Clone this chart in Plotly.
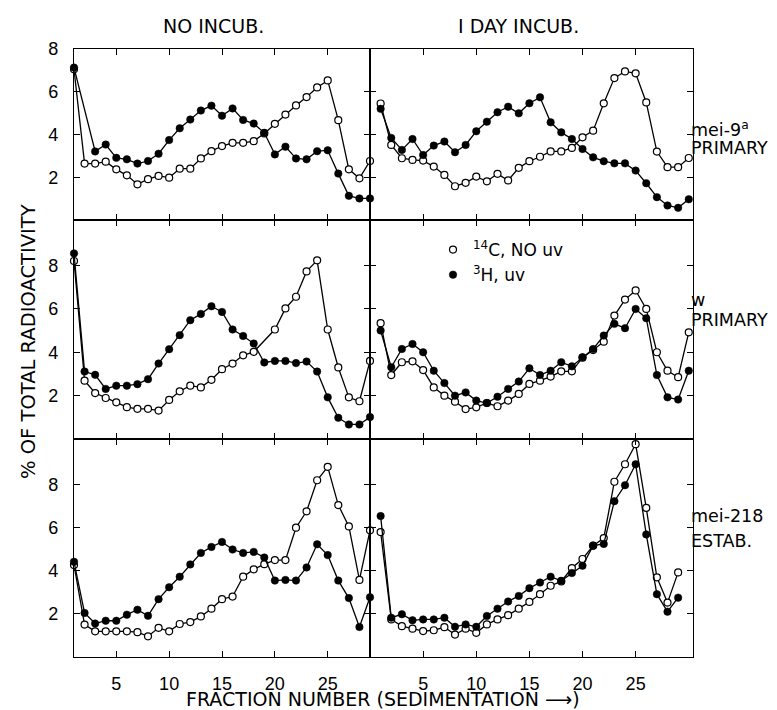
import plotly.graph_objects as go
from plotly.subplots import make_subplots

# ---------------- data ----------------
frac_29 = list(range(1, 30))
frac_30 = list(range(1, 31))
x_ticks = [5, 10, 15, 20, 25]
y_ticks = [2, 4, 6, 8]

col_titles = ["NO INCUB.", "I DAY INCUB."]
row_labels = [["mei-9<sup>a</sup>", "PRIMARY"], ["w", "PRIMARY"], ["mei-218", "ESTAB."]]
series_names = ["<sup>14</sup>C, NO uv", "<sup>3</sup>H, uv"]

# mei-9a primary, no incubation
mei9_no_c14 = [7.05, 2.64, 2.64, 2.73, 2.37, 2.09, 1.67, 1.91, 2.06, 1.98, 2.40, 2.40, 2.88, 3.22, 3.46,
               3.61, 3.61, 3.69, 4.05, 4.50, 4.93, 5.36, 5.75, 6.20, 6.53, 4.67, 2.37, 1.95, 2.76]
mei9_no_h3 = [7.13, None, 3.21, 3.53, 2.91, 2.84, 2.64, 2.76, 3.10, 3.74, 4.29, 4.70, 5.12, 5.35, 4.88,
              5.22, 4.68, 4.51, 4.08, 3.07, 3.43, 2.88, 2.84, 3.22, 3.26, 2.17, 1.13, 1.01, 1.01]
# mei-9a primary, 1 day incubation
mei9_day_c14 = [5.45, 3.51, 2.89, 2.81, 2.78, 2.50, 2.11, 1.58, 1.74, 2.03, 1.81, 2.16, 1.85, 2.44, 2.75,
                2.96, 3.21, 3.21, 3.37, 3.87, 4.18, 5.46, 6.64, 6.95, 6.86, 5.50, 3.20, 2.47, 2.47, 2.90]
mei9_day_h3 = [5.20, 3.84, 3.28, 3.79, 3.04, 3.48, 3.67, 3.17, 3.51, 4.15, 4.60, 5.04, 5.30, 4.99, 5.46,
               5.74, 4.57, 4.10, 3.79, 3.32, 2.93, 2.75, 2.65, 2.65, 2.31, 1.72, 1.07, 0.68, 0.57, 0.97]
# w primary, no incubation
w_no_c14 = [8.21, 2.69, 2.12, 1.89, 1.69, 1.47, 1.39, 1.39, 1.31, 1.80, 2.20, 2.46, 2.38, 2.73, 3.22,
            3.48, 3.86, 4.02, None, 5.05, 6.02, 6.56, 7.73, 8.24, 5.05, 3.30, 1.92, 1.74, 3.60]
w_no_h3 = [8.56, 3.11, 2.96, 2.31, 2.46, 2.46, 2.53, 2.76, 3.48, 4.14, 4.79, 5.48, 5.77, 6.12, 5.86,
           5.05, 4.75, 4.40, 3.53, 3.60, 3.60, 3.50, 3.57, 3.11, 1.92, 0.98, 0.67, 0.67, 1.01]
# w primary, 1 day incubation
w_day_c14 = [5.34, 2.95, 3.54, 3.58, 3.18, 2.38, 2.00, 1.72, 1.38, 1.46, 1.66, 1.51, 1.77, 2.08, 2.54,
             2.69, 2.88, 3.12, 3.12, 3.75, 4.10, 4.49, 5.69, 6.43, 6.85, 6.00, 4.00, 3.15, 2.85, 4.92]
w_day_h3 = [5.00, 3.31, 4.15, 4.38, 4.00, 3.15, 2.58, 2.00, 2.15, 1.77, 1.66, 1.95, 2.31, 2.65, 3.26,
            2.95, 3.15, 3.54, 3.35, 3.77, 4.15, 4.77, 5.31, 5.11, 6.00, 5.57, 2.95, 1.92, 1.82, 3.15]
# mei-218 established, no incubation
m218_no_c14 = [4.26, 1.50, 1.19, 1.19, 1.19, 1.19, 1.15, 0.96, 1.35, 1.19, 1.53, 1.62, 1.88, 2.24, 2.68,
               2.80, 3.72, 4.06, 4.30, 4.49, 4.49, 5.99, 6.75, 8.19, 8.81, 7.04, 6.05, 3.57, 5.87]
m218_no_h3 = [4.41, 2.04, 1.55, 1.68, 1.68, 1.96, 2.19, 1.91, 2.68, 3.23, 3.72, 4.29, 4.82, 5.10, 5.33,
              4.98, 4.82, 4.87, 4.61, 3.54, 3.57, 3.54, 4.15, 5.22, 4.72, 3.54, 2.73, 1.39, 2.77]
# mei-218 established, 1 day incubation
m218_day_c14 = [5.79, 1.74, 1.43, 1.31, 1.20, 1.24, 1.38, 1.04, 1.31, 1.12, 1.51, 1.74, 1.94, 2.24, 2.55,
                2.91, 3.30, 3.50, 4.12, 4.54, 5.16, 5.51, 8.12, 8.93, 9.86, 6.91, 3.69, 2.52, 3.92]
m218_day_h3 = [6.53, 1.82, 1.98, 1.70, 1.74, 1.74, 1.82, 1.40, 1.51, 1.40, 1.90, 2.24, 2.57, 2.83, 3.19,
               3.45, 3.72, 3.53, 3.89, 4.23, 5.16, 5.24, 7.22, 7.96, 8.93, 5.68, 2.91, 2.10, 2.75]

panels = [
    (1, 1, frac_29, mei9_no_c14, mei9_no_h3),
    (1, 2, frac_30, mei9_day_c14, mei9_day_h3),
    (2, 1, frac_29, w_no_c14, w_no_h3),
    (2, 2, frac_30, w_day_c14, w_day_h3),
    (3, 1, frac_29, m218_no_c14, m218_no_h3),
    (3, 2, frac_29, m218_day_c14, m218_day_h3),
]

# ---------------- figure ----------------
W, H = 777, 710
ML, MR, MT, MB = 66, 92, 41, 61
PW, PH = W - ML - MR, H - MT - MB

fig = make_subplots(rows=3, cols=2, horizontal_spacing=0, vertical_spacing=0,
                    row_heights=[171, 219, 218], column_widths=[296, 323])

open_marker = dict(symbol="circle", size=7, color="white", line=dict(color="black", width=1.2))
fill_marker = dict(symbol="circle", size=7.5, color="black", line=dict(color="black", width=0.5))
line_style = dict(color="black", width=1.3)

for r, c, xs, c14, h3 in panels:
    fig.add_trace(go.Scatter(x=xs, y=c14, mode="lines+markers", line=line_style, marker=open_marker,
                             connectgaps=True, cliponaxis=False, showlegend=False), row=r, col=c)
    fig.add_trace(go.Scatter(x=xs, y=h3, mode="lines+markers", line=line_style, marker=fill_marker,
                             connectgaps=True, cliponaxis=False, showlegend=False), row=r, col=c)

# legend entries
fig.add_trace(go.Scatter(x=[None], y=[None], mode="markers", marker=open_marker,
                         name=series_names[0], showlegend=True), row=2, col=2)
fig.add_trace(go.Scatter(x=[None], y=[None], mode="markers", marker=fill_marker,
                         name=series_names[1], showlegend=True), row=2, col=2)

axis_common = dict(showline=True, linecolor="black", linewidth=1.1, mirror="ticks", ticks="inside",
                   ticklen=6, tickwidth=1.3, tickcolor="black", showgrid=False, zeroline=False,
                   tickfont=dict(family="Liberation Sans", size=18, color="black"))

x_ranges = {1: [1, 29], 2: [0, 30.4]}
y_ranges = {1: [0, 8], 2: [0, 10.1], 3: [0, 10.1]}
for r in (1, 2, 3):
    for c in (1, 2):
        fig.update_xaxes(range=x_ranges[c], tickvals=x_ticks, showticklabels=(r == 3),
                         ticklabelstandoff=10, row=r, col=c, **axis_common)
        fig.update_yaxes(range=y_ranges[r], tickvals=y_ticks, showticklabels=(c == 1),
                         side=("left" if c == 1 else "right"), ticklabelstandoff=11,
                         row=r, col=c, **axis_common)

def px_x(p):
    return (p - ML) / PW

def px_y(p):
    return (H - MB - p) / PH

ann = []
title_font = dict(family="DejaVu Sans", size=19, color="black")
ann.append(dict(text=col_titles[0], x=px_x(205), y=px_y(18), xref="paper", yref="paper",
                showarrow=False, xanchor="center", yanchor="middle", font=title_font))
ann.append(dict(text=col_titles[1], x=px_x(510), y=px_y(18), xref="paper", yref="paper",
                showarrow=False, xanchor="center", yanchor="middle", font=title_font))

lab_font = dict(family="DejaVu Sans", size=17.5, color="black")
label_pos = [(121, 140), (292, 312), (508, 533)]
for (l1, l2), (y1, y2) in zip(row_labels, label_pos):
    ann.append(dict(text=l1, x=px_x(681), y=px_y(y1), xref="paper", yref="paper", showarrow=False,
                    xanchor="left", yanchor="middle", align="left", font=lab_font))
    ann.append(dict(text=l2, x=px_x(681), y=px_y(y2), xref="paper", yref="paper", showarrow=False,
                    xanchor="left", yanchor="middle", align="left", font=lab_font))

ann.append(dict(text="% OF TOTAL RADIOACTIVITY", x=px_x(20), y=px_y(334), xref="paper", yref="paper",
                showarrow=False, textangle=-90, xanchor="center", yanchor="middle",
                font=dict(family="DejaVu Sans", size=19.5, color="black")))
ann.append(dict(text="FRACTION NUMBER (SEDIMENTATION \u27f6)", x=px_x(375), y=px_y(691),
                xref="paper", yref="paper", showarrow=False, xanchor="center", yanchor="middle",
                font=dict(family="DejaVu Sans", size=19, color="black")))

fig.update_layout(
    width=W, height=H, margin=dict(l=ML, r=MR, t=MT, b=MB),
    paper_bgcolor="white", plot_bgcolor="white",
    annotations=ann,
    legend=dict(x=px_x(425), y=px_y(224), xanchor="left", yanchor="top",
                bgcolor="rgba(0,0,0,0)", font=dict(family="DejaVu Sans", size=17, color="black"),
                itemwidth=30, tracegroupgap=0),
)

fig.write_html("out.html")
